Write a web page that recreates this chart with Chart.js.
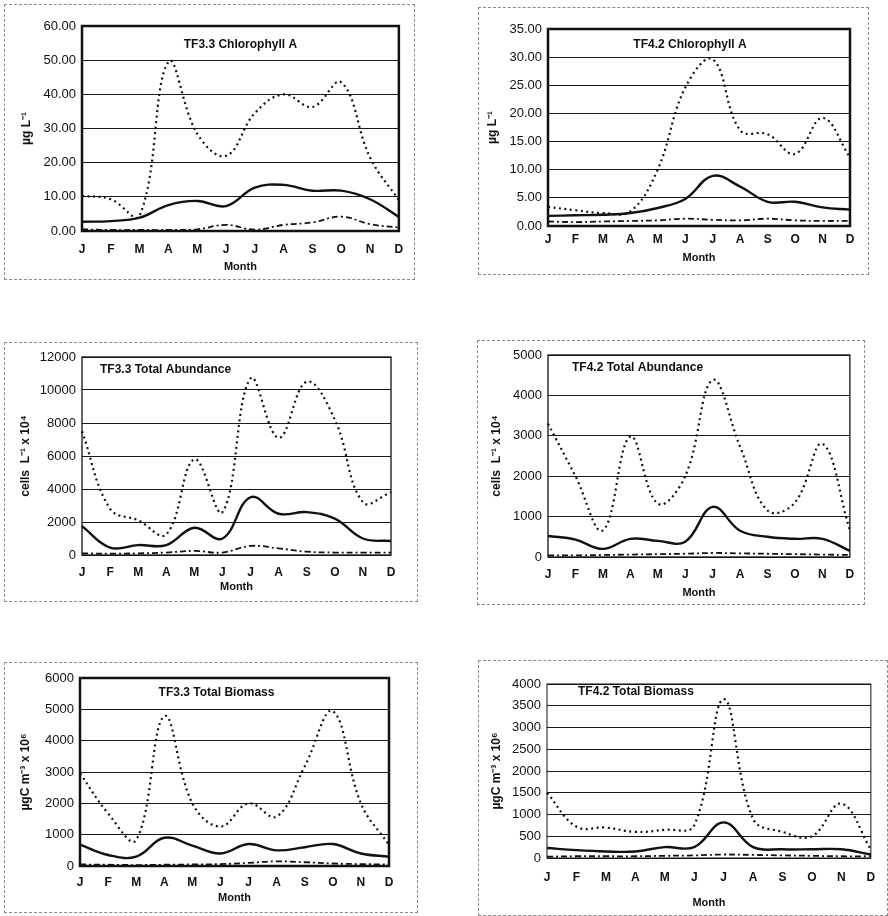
<!DOCTYPE html>
<html lang="en">
<head>
<meta charset="UTF-8">
<title>TF3.3 / TF4.2 monthly plankton</title>
<script src="https://cdn.jsdelivr.net/npm/chart.js"></script>
<style>
  body { margin: 0; background: #fff; width: 888px; height: 916px; position: relative; overflow: hidden; }
  .frame { position: absolute; box-sizing: border-box; border: 1px dashed #8a8a8a; pointer-events: none; }
  canvas.panel { position: absolute; }
</style>
</head>
<body>
<script>
const months = ['J', 'F', 'M', 'A', 'M', 'J', 'J', 'A', 'S', 'O', 'N', 'D'];

// TF3.3 Chlorophyll A (ug L-1)
const chl33Dotted  = [10.3, 9.3, 4.5, 49.5, 28.5, 22, 34.5, 40, 36.3, 43.5, 21.5, 9];
const chl33Solid   = [2.7, 2.9, 3.9, 7.6, 8.8, 7.3, 12.7, 13.5, 11.8, 11.8, 9.3, 4.1];
const chl33DashDot = [0.5, 0.3, 0.3, 0.3, 0.5, 1.8, 0.4, 1.8, 2.5, 4.2, 2, 1];

// TF4.2 Chlorophyll A (ug L-1)
const chl42Dotted  = [3.4, 2.8, 2.3, 2.6, 10.1, 24.6, 29.6, 17, 16.3, 12.8, 19.2, 12.2];
const chl42Solid   = [1.8, 1.9, 2.0, 2.3, 3.2, 4.8, 8.9, 7.0, 4.3, 4.3, 3.3, 2.9];
const chl42DashDot = [0.8, 0.7, 0.8, 0.9, 1.0, 1.3, 1.1, 1.0, 1.3, 1.0, 0.9, 0.9];

// TF3.3 Total Abundance (cells L-1 x 10^4)
const abu33Dotted  = [7500, 2800, 2100, 1250, 5800, 2600, 10700, 7100, 10500, 8200, 3200, 3800];
const abu33Solid   = [1750, 450, 600, 600, 1650, 1000, 3500, 2500, 2600, 2200, 1000, 850];
const abu33DashDot = [100, 80, 100, 150, 250, 150, 550, 400, 200, 150, 150, 150];

// TF4.2 Total Abundance (cells L-1 x 10^4)
const abu42Dotted  = [3300, 2000, 660, 2980, 1320, 2000, 4380, 2730, 1150, 1350, 2800, 660];
const abu42Solid   = [520, 430, 200, 450, 400, 380, 1240, 650, 500, 450, 450, 150];
const abu42DashDot = [40, 40, 50, 60, 70, 80, 100, 90, 80, 70, 60, 50];

// TF3.3 Total Biomass (ugC m-3 x 10^6)
const bio33Dotted  = [2960, 1680, 830, 4780, 2000, 1260, 2000, 1580, 3180, 4940, 2000, 670];
const bio33Solid   = [680, 350, 300, 900, 650, 400, 700, 500, 600, 700, 400, 300];
const bio33DashDot = [50, 40, 30, 40, 50, 60, 100, 150, 120, 80, 60, 50];

// TF4.2 Total Biomass (ugC m-3 x 10^6)
const bio42Dotted  = [1500, 720, 700, 600, 650, 750, 3650, 900, 600, 500, 1250, 200];
const bio42Solid   = [230, 180, 150, 150, 250, 250, 820, 250, 200, 200, 200, 80];
const bio42DashDot = [30, 40, 40, 40, 50, 60, 80, 70, 60, 50, 40, 40];

const FONT = '"Liberation Sans", Arial, sans-serif';

// box positions: frame [left, top, width, height], plot [left, top, right, bottom]
const panels = [
  { title: 'TF3.3 Chlorophyll A', align: 'center', dx: 0, dy: 19, yTitle: 'µg L⁻¹',
    max: 60, step: 10, dec: true, frame: [4, 4, 411, 276], plot: [82, 26, 407, 231],
    labelY: 250, monthY: 267, yTitleX: 27, rectW: 2.5,
    dotted: chl33Dotted, solid: chl33Solid, dashdot: chl33DashDot },
  { title: 'TF4.2 Chlorophyll A', align: 'center', dx: -9, dy: 16, yTitle: 'µg L⁻¹',
    max: 35, step: 5, dec: true, frame: [478, 7, 391, 268], plot: [548, 29, 850, 226],
    labelY: 240, monthY: 258, yTitleX: 493, rectW: 2.5,
    dotted: chl42Dotted, solid: chl42Solid, dashdot: chl42DashDot },
  { title: 'TF3.3 Total Abundance', align: 'left', dx: 18, dy: 13, yTitle: 'cells  L⁻¹ x 10⁴',
    max: 12000, step: 2000, dec: false, frame: [4, 342, 414, 260], plot: [82, 357, 391, 555],
    labelY: 573, monthY: 587, yTitleX: 26, rectW: 1.3,
    dotted: abu33Dotted, solid: abu33Solid, dashdot: abu33DashDot },
  { title: 'TF4.2 Total Abundance', align: 'left', dx: 24, dy: 13, yTitle: 'cells  L⁻¹ x 10⁴',
    max: 5000, step: 1000, dec: false, frame: [477, 340, 388, 265], plot: [548, 355, 855, 557],
    labelY: 575, monthY: 593, yTitleX: 497, rectW: 1.3,
    dotted: abu42Dotted, solid: abu42Solid, dashdot: abu42DashDot },
  { title: 'TF3.3 Total Biomass', align: 'center', dx: -18, dy: 15, yTitle: 'µgC m⁻³ x 10⁶',
    max: 6000, step: 1000, dec: false, frame: [4, 662, 414, 251], plot: [80, 678, 389, 866],
    labelY: 883, monthY: 898, yTitleX: 26, rectW: 2.5,
    dotted: bio33Dotted, solid: bio33Solid, dashdot: bio33DashDot },
  { title: 'TF4.2 Total Biomass', align: 'left', dx: 31, dy: 8, yTitle: 'µgC m⁻³ x 10⁶',
    max: 4000, step: 500, dec: false, frame: [478, 660, 410, 256], plot: [547, 684, 878, 858],
    labelY: 878, monthY: 903, yTitleX: 497, rectW: 1,
    dotted: bio42Dotted, solid: bio42Solid, dashdot: bio42DashDot }
];

// plot-area rectangle and the title inside it
const decor = {
  id: 'decor',
  afterDraw(chart, args, opts) {
    const { ctx, chartArea: a } = chart;
    ctx.save();
    ctx.strokeStyle = '#111';
    ctx.lineWidth = opts.rectW;
    ctx.strokeRect(a.left, a.top, a.right - a.left, a.bottom - a.top);
    ctx.font = 'bold 12px ' + FONT;
    ctx.fillStyle = '#111';
    ctx.textBaseline = 'middle';
    ctx.textAlign = opts.align;
    const x = opts.align === 'center' ? (a.left + a.right) / 2 + opts.dx : a.left + opts.dx;
    ctx.fillText(opts.title, x, a.top + opts.dy);
    ctx.restore();
  }
};

function line(data, width, dash) {
  return { data, borderColor: '#111', borderWidth: width, borderDash: dash,
           tension: 0.4, pointRadius: 0, fill: false };
}

panels.forEach(p => {
  const [fl, ft, fw, fh] = p.frame;
  const [pl, pt, pr, pb] = p.plot;

  const box = document.createElement('div');
  box.className = 'frame';
  Object.assign(box.style, { left: fl + 'px', top: ft + 'px', width: fw + 'px', height: fh + 'px' });

  const cv = document.createElement('canvas');
  cv.className = 'panel';
  cv.width = fw;
  cv.height = fh;
  Object.assign(cv.style, { left: fl + 'px', top: ft + 'px' });
  document.body.appendChild(cv);
  document.body.appendChild(box);

  new Chart(cv, {
    type: 'line',
    data: {
      labels: months,
      datasets: [
        line(p.dotted, 2.2, [2, 3.5]),
        line(p.solid, 2.4, []),
        line(p.dashdot, 1.8, [6, 3, 2, 3])
      ]
    },
    options: {
      responsive: false,
      animation: false,
      devicePixelRatio: 1,
      layout: { padding: { left: 0, top: pt - ft, right: fl + fw - pr, bottom: 0 } },
      plugins: {
        legend: { display: false },
        tooltip: { enabled: false },
        decor: { title: p.title, align: p.align, dx: p.dx, dy: p.dy, rectW: p.rectW }
      },
      scales: {
        x: {
          offset: false,
          grid: { display: false, drawTicks: false },
          border: { display: false },
          ticks: { autoSkip: false, maxRotation: 0, color: '#111',
                   font: { family: FONT, size: 12, weight: 'bold' },
                   padding: p.labelY - pb - 7.2 },
          title: { display: true, text: 'Month', color: '#111',
                   font: { family: FONT, size: 11, weight: 'bold' },
                   padding: { top: 0, bottom: ft + fh - p.monthY - 6.6 } },
          afterFit: s => { s.height = ft + fh - pb; }
        },
        y: {
          min: 0, max: p.max,
          grid: { color: '#1a1a1a', lineWidth: 1, drawTicks: false },
          border: { display: false },
          ticks: { stepSize: p.step, color: '#111', padding: 6,
                   font: { family: FONT, size: 13 },
                   callback: v => p.dec ? v.toFixed(2) : String(v) },
          title: { display: true, text: p.yTitle, color: '#111',
                   font: { family: FONT, size: 12, weight: 'bold' },
                   padding: { top: p.yTitleX - fl - 7.2, bottom: 0 } },
          afterFit: s => { s.width = pl - fl; }
        }
      }
    },
    plugins: [decor]
  });
});
</script>
</body>
</html>
